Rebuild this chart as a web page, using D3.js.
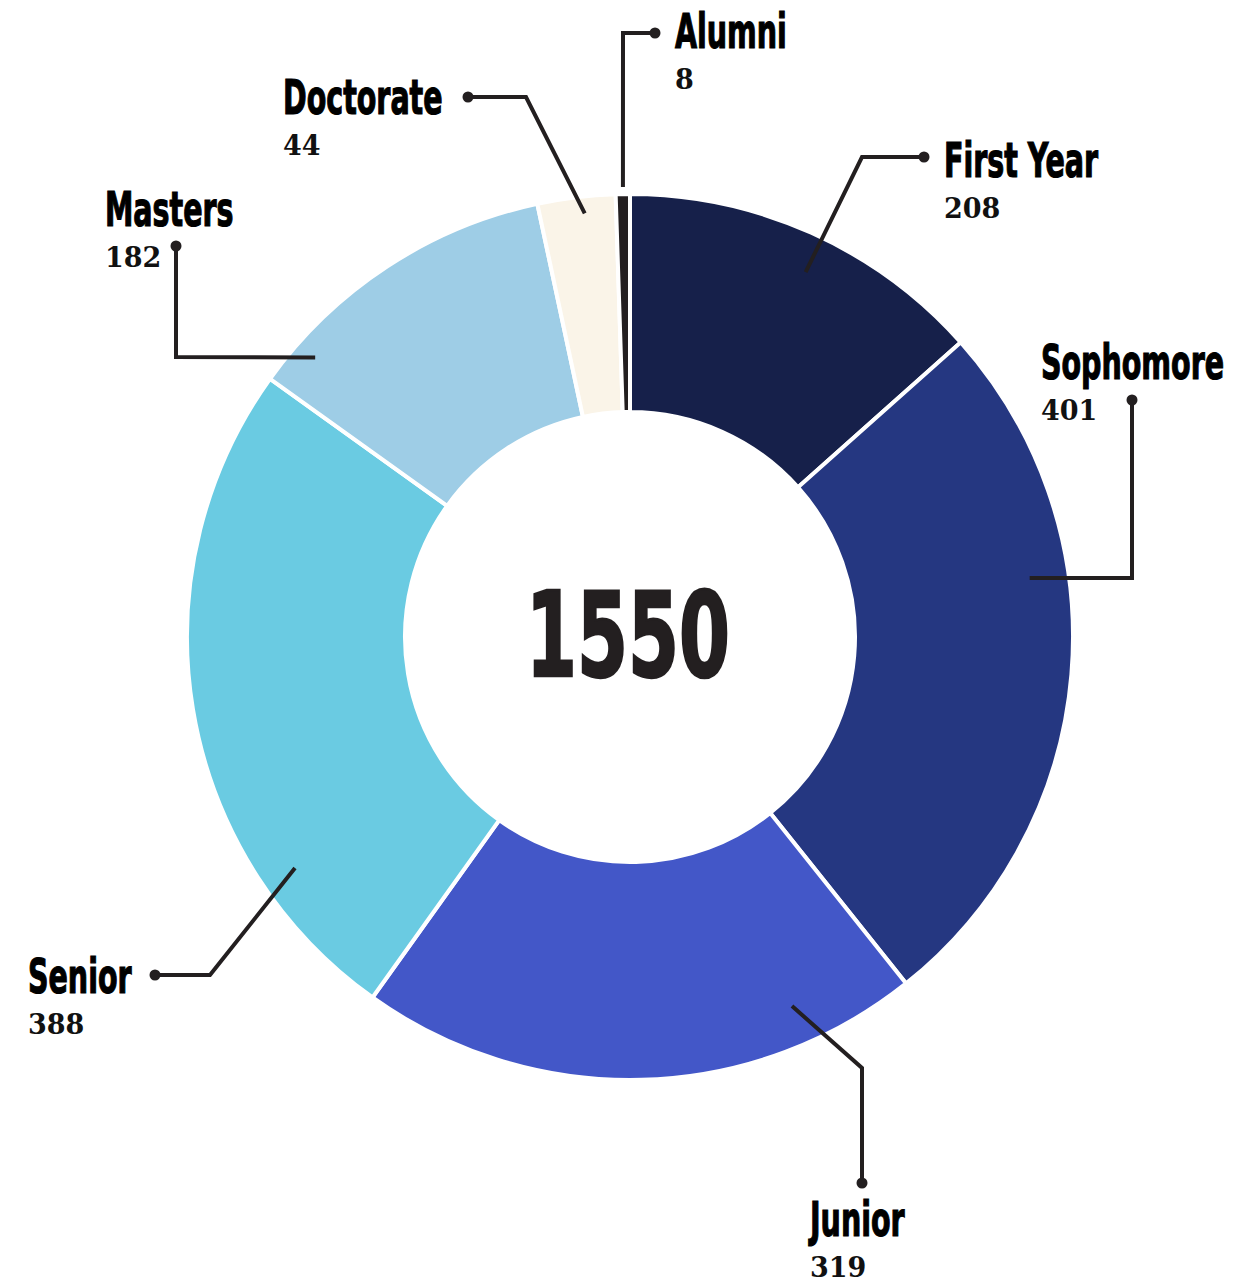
<!DOCTYPE html>
<html lang="en">
<head>
<meta charset="UTF-8">
<title>Students by year</title>
<script src="https://d3js.org/d3.v7.min.js"></script>
<style>
  body { margin: 0; background: #fff; }
  .lab { font-family: "Liberation Sans Narrow", "DejaVu Sans Condensed", "Roboto Condensed", sans-serif; font-weight: bold; fill: #000; stroke: #000; stroke-width: 1.2px; }
  .num { font-family: "DejaVu Serif", "Liberation Serif", serif; font-weight: bold; fill: #111; }
</style>
</head>
<body>
<div id="chart"></div>
<script>
// data
var categories = ["First Year", "Sophomore", "Junior", "Senior", "Masters", "Doctorate", "Alumni"];
var counts = [208, 401, 319, 388, 182, 44, 8];
var colors = ["#16204a", "#253781", "#4357c8", "#6acbe2", "#9ecde6", "#faf4e8", "#231f20"];

// leader layout (angle in degrees from top, radius of start, then elbow/dot offsets from centre)
var leaderAngle = [25.7, 81.6, 156.3, 235.4, 311.6, 353.9, 359.1];
var leaderRadius = [405, 404, 403, 407, 421, 426, 450];
var leaderElbow = [[232, -480], [502, -59], [232, 431], [-420, 338], [-454, -280], [-104, -540], [-7, -604]];
var leaderDot = [[294, -480], [502, -237], [232, 546], [-475, 338], [-454, -391], [-162, -540], [25, -604]];
var labelPos = [[314, -460], [411, -258], [180, 599], [-602, 356], [-525, -411], [-347, -523], [45, -589]];

var W = 1260, H = 1283;
var cx = 630, cy = 637;
var outerR = 443, innerR = 225;

var svg = d3.select("#chart").append("svg")
    .attr("width", W)
    .attr("height", H);

var g = svg.append("g").attr("transform", "translate(" + cx + "," + cy + ")");

var data = categories.map(function(c, i) { return {name: c, value: counts[i], color: colors[i], i: i}; });

var pie = d3.pie().sort(null).value(function(d) { return d.value; });
var arc = d3.arc().innerRadius(innerR).outerRadius(outerR);

g.selectAll("path.slice")
  .data(pie(data))
  .enter().append("path")
    .attr("class", "slice")
    .attr("d", arc)
    .attr("fill", function(d) { return d.data.color; })
    .attr("stroke", "#fff")
    .attr("stroke-width", 4)
    .attr("stroke-linejoin", "miter");

// leader lines
data.forEach(function(d, i) {
  var a = leaderAngle[i] * Math.PI / 180;
  var sx = leaderRadius[i] * Math.sin(a), sy = -leaderRadius[i] * Math.cos(a);
  var line = d3.line();
  g.append("path")
    .attr("d", line([[sx, sy], leaderElbow[i], leaderDot[i]]))
    .attr("fill", "none")
    .attr("stroke", "#231f20")
    .attr("stroke-width", 4)
    .attr("stroke-linejoin", "miter");
  g.append("circle")
    .attr("cx", leaderDot[i][0]).attr("cy", leaderDot[i][1])
    .attr("r", 5.5)
    .attr("fill", "#231f20");

  var t = g.append("g").attr("transform", "translate(" + labelPos[i][0] + "," + labelPos[i][1] + ")");
  t.append("text")
    .attr("class", "lab")
    .attr("transform", "scale(0.66,1)")
    .style("font-size", "48px")
    .text(d.name);
  t.append("text")
    .attr("class", "num")
    .attr("y", 41)
    .style("font-size", "27px")
    .text(d.value);
});

// total in the middle
g.append("text")
  .attr("class", "lab")
  .attr("text-anchor", "middle")
  .attr("x", -2 / 0.69)
  .attr("y", 39)
  .attr("transform", "scale(0.69,1)")
  .style("font-size", "118px")
  .style("fill", "#231f20")
  .style("stroke", "#231f20")
  .style("stroke-width", "2.5px")
  .text(d3.sum(counts));
</script>
</body>
</html>
